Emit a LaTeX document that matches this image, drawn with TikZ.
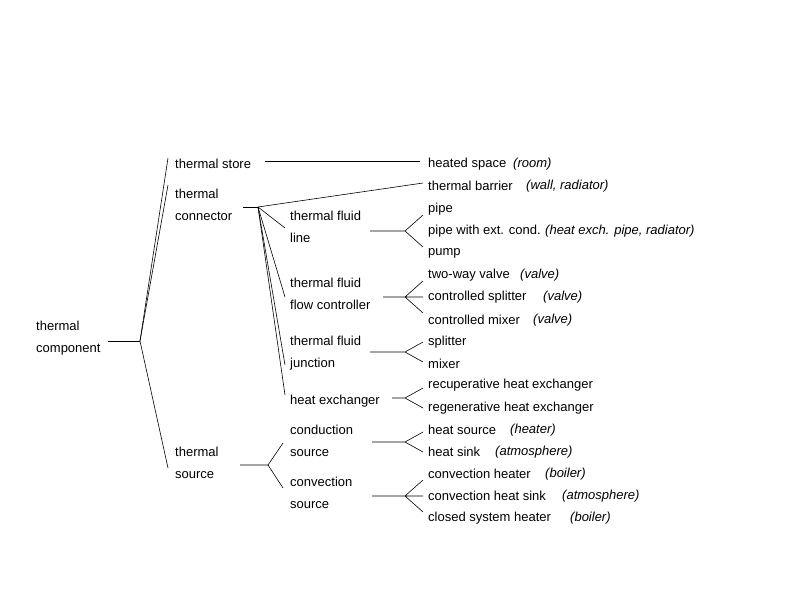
\documentclass[tikz,border=0pt]{standalone}
\usepackage{fontspec}
\setmainfont{Liberation Sans}
\begin{document}
\begin{tikzpicture}[x=1pt,y=-1pt,
  lab/.style={anchor=west,inner sep=0pt,font=\fontsize{13}{22}\selectfont,align=left},
  it/.style={anchor=west,inner sep=0pt,font=\fontsize{13}{22}\selectfont\itshape},
  ln/.style={line width=0.6pt}]
\useasboundingbox (0,0) rectangle (800,600);
\node[lab] (tc) at (36,338) {thermal\\component};
\node[lab] (ts) at (175,164) {thermal store};
\node[lab] (tcon) at (175,205) {thermal\\connector};
\node[lab] (tsrc) at (175,463) {thermal\\source};
\node[lab] (fl) at (290,227) {thermal fluid\\line};
\node[lab] (fc) at (290,294) {thermal fluid\\flow controller};
\node[lab] (jn) at (290,353) {thermal fluid\\junction};
\node[lab] (hx) at (290,401) {heat exchanger};
\node[lab] (cd) at (290,441) {conduction\\source};
\node[lab] (cv) at (290,493) {convection\\source};
\foreach \n/\y/\t in {r1/164/heated space,r2/186/thermal barrier,r3/209/pipe,r4/231/pipe with ext. cond.,r5/253/pump,r6/275/two-way valve,r7/297/controlled splitter,r8/320/controlled mixer,r9/342/splitter,r10/364/mixer,r11/385/recuperative heat exchanger,r12/408/regenerative heat exchanger,r13/430/heat source,r14/452/heat sink,r15/474/convection heater,r16/496/convection heat sink,r17/518/closed system heater}
  \node[lab] (\n) at (428,\y) {\t};
\foreach \x/\y/\t in {513/164/(room),526/186/{(wall, radiator)},545/231/{(heat exch. pipe, radiator)},520/275/(valve),543/297/(valve),533/320/(valve),510/430/(heater),495/452/(atmosphere),545/474/(boiler),562/496/(atmosphere),570/518/(boiler)}
  \node[it] at (\x,\y) {\t};
\coordinate (b0) at (140,341);
\draw[ln] (108,341) -- (b0);
\draw[ln] (b0) -- (168,158);
\draw[ln] (b0) -- (168,185);
\draw[ln] (b0) -- (168,468);
\draw[ln] (265,161) -- (420,161);
\coordinate (b1) at (258,207);
\draw[ln] (243,207) -- (b1);
\draw[ln] (b1) -- (423,183);
\draw[ln] (b1) -- (285,228);
\draw[ln] (b1) -- (285,297);
\draw[ln] (b1) -- (285,365);
\draw[ln] (b1) -- (285,395);
% forks
\draw[ln] (370,231) -- (405,231) (423,215) -- (405,231) -- (423,247);
\draw[ln] (383,297) -- (423,297) (423,281) -- (405,297) -- (423,313);
\draw[ln] (370,352) -- (405,352) (423,342) -- (405,352) -- (423,362);
\draw[ln] (392,398) -- (405,398) (423,388) -- (405,398) -- (423,408);
\draw[ln] (372,442) -- (405,442) (423,432) -- (405,442) -- (423,452);
\draw[ln] (372,496) -- (423,496) (423,480) -- (405,496) -- (423,512);
\draw[ln] (240,465) -- (268,465) (283,443) -- (268,465) -- (283,488);
\end{tikzpicture}
\end{document}
